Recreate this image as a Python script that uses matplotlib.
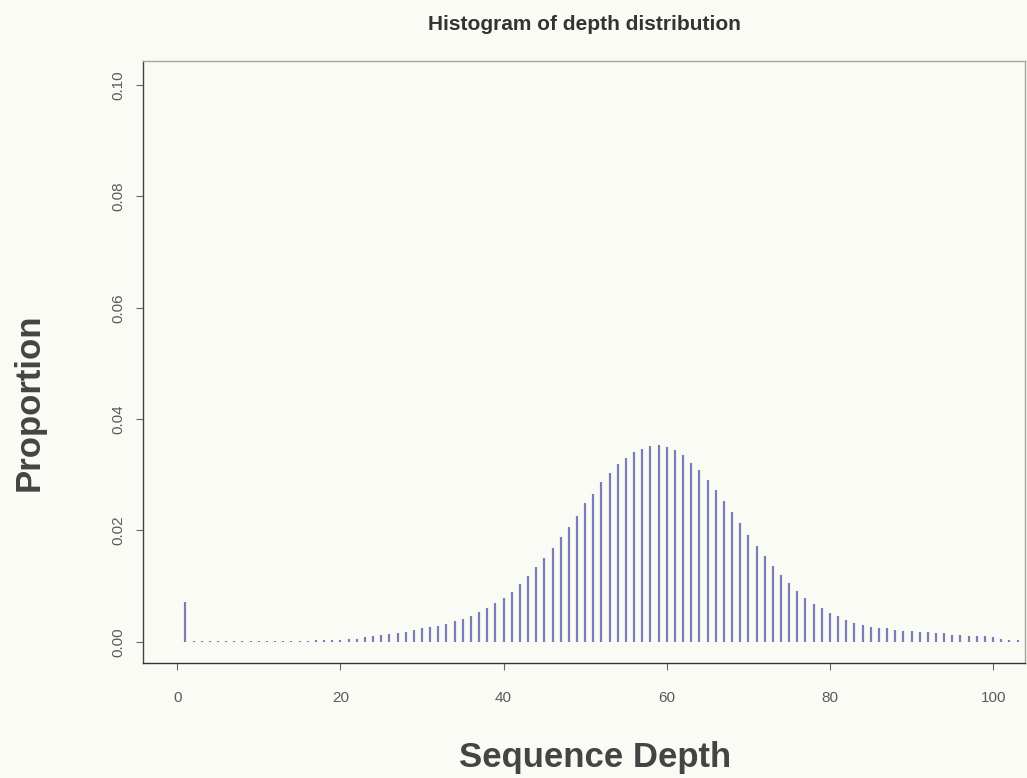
#Histograma de la distribucion de profundidad
import matplotlib
matplotlib.use("Agg")
import matplotlib.pyplot as plt

#Datos
profundidad = list(range(1, 104))
proporcion = [
    0.0072, 0.0001, 0.0001, 0.0001, 0.0001, 0.0001, 0.0001, 0.0001, 0.0001, 0.0001,        # 1-10
    0.0001, 0.0001, 0.00012, 0.00014, 0.00016, 0.0002, 0.00025, 0.0003, 0.00035, 0.0004,   # 11-20
    0.0005, 0.0006, 0.0008, 0.0010, 0.0012, 0.0014, 0.0016, 0.0018, 0.0021, 0.0024,        # 21-30
    0.0026, 0.0029, 0.0032, 0.0037, 0.0041, 0.0046, 0.0053, 0.0060, 0.0069, 0.0079,        # 31-40
    0.0090, 0.0103, 0.0119, 0.0134, 0.0150, 0.0169, 0.0188, 0.0207, 0.0226, 0.0249,        # 41-50
    0.0266, 0.0287, 0.0304, 0.0319, 0.0330, 0.0341, 0.0347, 0.0351, 0.0354, 0.0350,        # 51-60
    0.0344, 0.0335, 0.0322, 0.0308, 0.0291, 0.0273, 0.0253, 0.0234, 0.0213, 0.0192,        # 61-70
    0.0172, 0.0154, 0.0136, 0.0120, 0.0105, 0.0091, 0.0078, 0.0068, 0.0060, 0.0051,        # 71-80
    0.0046, 0.0039, 0.0034, 0.0030, 0.0027, 0.0025, 0.0024, 0.0022, 0.0020, 0.0019,        # 81-90
    0.0018, 0.0017, 0.0016, 0.0015, 0.0013, 0.0013, 0.0011, 0.0010, 0.0010, 0.0008,        # 91-100
    0.0006, 0.0004, 0.0003,                                                                # 101-103
]
xticks = [0, 20, 40, 60, 80, 100]
yticks = [0.00, 0.02, 0.04, 0.06, 0.08, 0.10]

fondo = "#fbfbf6"
fig = plt.figure(figsize=(10.27, 7.78), dpi=100, facecolor=fondo)
ax = fig.add_axes([0.1392, 0.1478, 0.8588, 0.7738])
ax.set_facecolor(fondo)

#lineas verticales tipo "h" de R
ax.vlines(profundidad, 0, proporcion, colors="#7a7eb8", linewidth=1.6)

ax.set_xlim(-4.2, 103.9)
ax.set_ylim(-0.0038, 0.1043)

#ejes estilo R
ax.spines["left"].set_color("#444444")
ax.spines["bottom"].set_color("#333333")
ax.spines["top"].set_color("#a8a8a0")
ax.spines["right"].set_color("#a8a8a0")
for s in ax.spines.values():
    s.set_linewidth(1.0)

ax.set_xticks(xticks)
ax.set_xticklabels([str(t) for t in xticks], fontsize=11, color="#5a5a5a",
                   family="Liberation Sans")
ax.set_yticks(yticks)
ax.set_yticklabels(["%.2f" % t for t in yticks], fontsize=11, color="#5a5a5a",
                   rotation=90, va="center", family="Liberation Sans")
ax.tick_params(axis="x", length=5, width=0.8, color="#666666", pad=15)
ax.tick_params(axis="y", length=5, width=0.8, color="#666666", pad=8)

ax.set_title("Histogram of depth distribution", fontsize=15, fontweight="bold",
             color="#333333", pad=22, family="Liberation Sans")
ax.set_xlabel("Sequence Depth", fontsize=25, fontweight="bold", color="#444444",
              family="Liberation Sans")
ax.set_ylabel("Proportion", fontsize=25, fontweight="bold", color="#444444",
              family="Liberation Sans")
#posicion de las etiquetas (no centradas en el original)
ax.xaxis.set_label_coords(0.5125, -0.13)
ax.yaxis.set_label_coords(-0.11, 0.4336)

fig.savefig("out.png", dpi=100, facecolor=fondo)
